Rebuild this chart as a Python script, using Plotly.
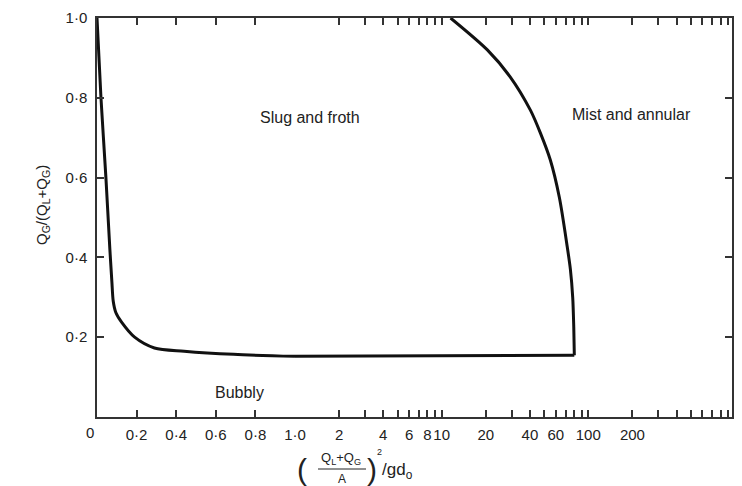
import plotly.graph_objects as go

# ---- data ----
# left boundary (linear part of x axis, 0..1)
left_x = [0.0, 0.02, 0.045, 0.065, 0.075, 0.082, 0.095, 0.125, 0.19, 0.29, 0.44, 0.69, 1.0]
left_y = [1.0, 0.80, 0.60, 0.42, 0.34, 0.29, 0.262, 0.237, 0.20, 0.173, 0.165, 0.157, 0.152]
# bottom boundary (log part)
bottom_x = [1.0, 10.0, 80.3]
bottom_y = [0.152, 0.153, 0.155]
# right boundary (log part)
right_x = [80.3, 79.6, 78.3, 75.5, 71.9, 63.5, 55.1, 47.1, 40.3, 29.4, 20.5, 11.5]
right_y = [0.155, 0.226, 0.30, 0.37, 0.426, 0.55, 0.644, 0.712, 0.769, 0.852, 0.92, 1.0]

lin_ticks = [0.2, 0.4, 0.6, 0.8, 1.0]
lin_labels = ["0·2", "0·4", "0·6", "0·8", "1·0"]
log_ticks = [2, 4, 6, 8, 10, 20, 40, 60, 100, 200]
log_labels = ["2", "4", "6", "8", "10", "20", "40", "60", "100", "200"]
log_minor = [3, 5, 7, 9, 30, 50, 70, 80, 90, 300, 400, 500, 600, 700, 800, 900]
long_ticks = [1, 10, 100]
y_ticks = [0.2, 0.4, 0.6, 0.8, 1.0]
y_labels = ["0·2", "0·4", "0·6", "0·8", "1·0"]

region_labels = ["Slug and froth", "Mist and annular", "Bubbly"]

# ---- layout constants ----
W, H = 742, 486
L, R, T, B = 97, 10, 18, 69
PX0, PX1, PY0, PY1 = 97, 732, 417, 18
SPLIT = (295 - PX0) / (PX1 - PX0)
FONT = "Liberation Sans, Arial, sans-serif"
INK = "#222222"
LINE = "#333333"


def px(x):
    return (x - PX0) / (PX1 - PX0)


def py(y):
    return (PY0 - y) / (PY0 - PY1)


fig = go.Figure()
fig.add_trace(go.Scatter(x=left_x, y=left_y, xaxis="x", yaxis="y", mode="lines",
                         line=dict(color="#111111", width=3, shape="spline", smoothing=0.8),
                         showlegend=False, hoverinfo="skip"))
fig.add_trace(go.Scatter(x=bottom_x, y=bottom_y, xaxis="x2", yaxis="y2", mode="lines",
                         line=dict(color="#111111", width=3),
                         showlegend=False, hoverinfo="skip"))
fig.add_trace(go.Scatter(x=right_x, y=right_y, xaxis="x2", yaxis="y2", mode="lines",
                         line=dict(color="#111111", width=3, shape="spline", smoothing=0.8),
                         showlegend=False, hoverinfo="skip"))

tickfont = dict(family=FONT, size=15, color=INK)
common = dict(showline=True, linecolor=LINE, linewidth=1.5, ticks="inside",
              tickcolor=LINE, tickwidth=1.5, ticklen=7, automargin=False,
              showgrid=False, zeroline=False, tickfont=tickfont, tickangle=0)

fig.update_layout(
    template="none",
    width=W, height=H,
    margin=dict(l=L, r=R, t=T, b=B, pad=0, autoexpand=False),
    paper_bgcolor="white", plot_bgcolor="white",
    xaxis=dict(domain=[0, SPLIT], range=[0, 1], tickmode="array",
               tickvals=lin_ticks, ticktext=lin_labels, anchor="y",
               ticklabelstandoff=3, mirror="allticks", **common),
    xaxis2=dict(domain=[SPLIT, 1], type="log", range=[0, 2.98], tickmode="array",
                tickvals=log_ticks, ticktext=log_labels, anchor="y2",
                ticklabelstandoff=3, mirror="allticks",
                minor=dict(tickmode="array", tickvals=log_minor, ticks="inside",
                           ticklen=7, tickwidth=1.5, tickcolor=LINE, showgrid=False),
                **common),
    xaxis3=dict(overlaying="x2", type="log", range=[0, 2.98], tickmode="array",
                tickvals=long_ticks, showticklabels=False, anchor="y2",
                ticks="inside", ticklen=13, tickwidth=1.5, tickcolor=LINE,
                automargin=False,
                mirror="allticks", showline=False, showgrid=False, zeroline=False),
    yaxis=dict(domain=[0, 1], range=[0, 1], tickmode="array", tickvals=y_ticks,
               ticktext=y_labels, anchor="x", ticklabelstandoff=5, mirror=False,
               **common),
    yaxis2=dict(domain=[0, 1], side="right", anchor="x2", range=[0, 1],
                tickmode="array", tickvals=y_ticks, showticklabels=False,
                showline=True, linecolor=LINE, linewidth=1.5, ticks="inside",
                tickcolor=LINE, tickwidth=1.5, ticklen=7, showgrid=False,
                automargin=False, zeroline=False),
)


def note(x, y, text, size, **kw):
    d = dict(x=px(x), y=py(y), xref="paper", yref="paper", text=text,
             showarrow=False, xanchor="center", yanchor="middle",
             font=dict(family=FONT, size=size, color=INK))
    d.update(kw)
    return d


ann = [
    note(90, 432, "0", 15),
    note(310, 117, region_labels[0], 16),
    note(631, 114, region_labels[1], 16),
    note(239, 392, region_labels[2], 16),
    note(42, 205, "Q<sub>G</sub>/(Q<sub>L</sub>+Q<sub>G</sub>)", 15, textangle=-90),
    # x title (fraction built from text pieces)
    note(302, 469, "(", 30),
    note(372, 469, ")", 30),
    note(341, 459, "Q<sub>L</sub>+Q<sub>G</sub>", 13),
    note(342, 479, "A", 12),
    note(379, 452, "2", 9),
    note(380, 471, "/gd<sub>o</sub>", 17, xanchor="left"),
]
fig.update_layout(annotations=ann)
fig.add_shape(type="line", xref="paper", yref="paper",
              x0=px(318), x1=px(366), y0=py(469), y1=py(469),
              line=dict(color=INK, width=1))

fig.write_html("out.html")
